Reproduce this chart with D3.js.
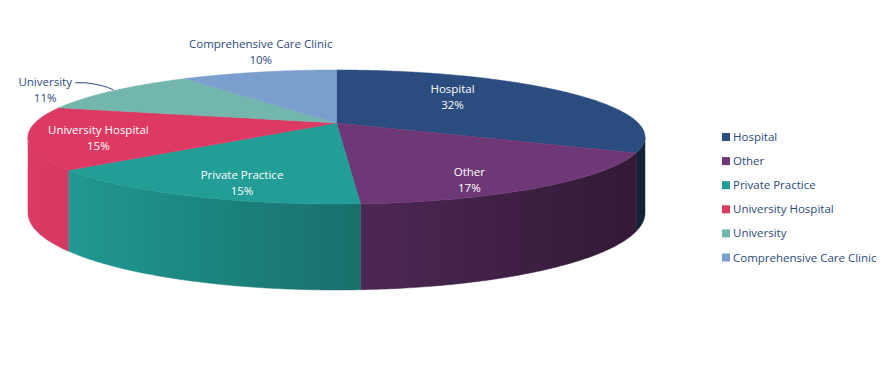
<!DOCTYPE html>
<html>
<head>
<meta charset="utf-8">
<script src="https://cdn.jsdelivr.net/npm/d3@7"></script>
<style>
  body { margin: 0; background: #fff; }
  svg { display: block; font-family: "Segoe UI", "Open Sans", sans-serif; }
</style>
</head>
<body>
<svg id="chart" width="883" height="392"></svg>
<script>
// data
var categories = ["Hospital", "Other", "Private Practice", "University Hospital", "University", "Comprehensive Care Clinic"];
var values = [32, 17, 15, 15, 11, 10];
var colors = ["#2b4c7e", "#6e3877", "#229e97", "#dc3a63", "#72b6ae", "#7b9fcd"];

var svg = d3.select("#chart");
var defs = svg.append("defs");

// perspective settings for the tilted disc
var cx = 336.5, cy = 123, sx = 301.7, sy = 64.1, persp = 0.209, depth = 73.8;

function proj(t, r, down) {
    r = r == null ? 1 : r;
    var px = r * Math.sin(t), pz = r * Math.cos(t);
    var w = 1 + persp * pz;
    var x = cx + sx * px / w, y = cy - sy * pz / w;
    if (down) y += depth / Math.pow(w, 0.65);
    return [x, y];
}

function arcPoints(a0, a1, down) {
    var n = Math.max(2, Math.ceil(Math.abs(a1 - a0) / 0.01));
    return d3.range(n + 1).map(function(i) { return proj(a0 + (a1 - a0) * i / n, 1, down); });
}

var pie = d3.pie().sort(null).value(function(d) { return d; });
var slices = pie(values);

var shade = d3.scaleLinear().domain([30, 640]).range([1, 0.45]).clamp(true);
function scaleColor(c, k) {
    var col = d3.rgb(c);
    return d3.rgb(col.r * k, col.g * k, col.b * k).toString();
}

// outer walls, only the part that faces us
var wMin = 102 * Math.PI / 180, wMax = 258 * Math.PI / 180;
var walls = svg.append("g").attr("class", "walls");
slices.forEach(function(s, i) {
    var a0 = Math.max(s.startAngle, wMin), a1 = Math.min(s.endAngle, wMax);
    if (a1 <= a0) return;
    var top = arcPoints(a0, a1, false);
    var bot = arcPoints(a1, a0, true);
    var x1 = top[0][0], x2 = top[top.length - 1][0];
    var grad = defs.append("linearGradient")
        .attr("id", "wall" + i)
        .attr("gradientUnits", "userSpaceOnUse")
        .attr("x1", x1).attr("x2", x2).attr("y1", 0).attr("y2", 0);
    d3.range(11).forEach(function(j) {
        var x = x1 + (x2 - x1) * j / 10;
        grad.append("stop").attr("offset", j / 10).attr("stop-color", scaleColor(colors[i], shade(x)));
    });
    walls.append("path")
        .attr("d", "M" + top.concat(bot).join("L") + "Z")
        .attr("fill", "url(#wall" + i + ")")
        .attr("stroke", "url(#wall" + i + ")")
        .attr("stroke-width", 0.5);
});

// top faces
var tops = svg.append("g").attr("class", "tops");
slices.forEach(function(s, i) {
    var pts = [[cx, cy]].concat(arcPoints(s.startAngle, s.endAngle, false));
    tops.append("path")
        .attr("d", "M" + pts.join("L") + "Z")
        .attr("fill", colors[i])
        .attr("stroke", colors[i])
        .attr("stroke-width", 0.5);
});

// labels
var inside = {
    "Hospital": [0.48, -10],
    "Other": [0.69, 15],
    "Private Practice": [0.685, 14],
    "University Hospital": [0.78, 4]
};
var labels = svg.append("g").attr("font-size", "11.5px");
slices.forEach(function(s, i) {
    var name = categories[i];
    var mid = (s.startAngle + s.endAngle) / 2;
    var pct = values[i] + "%";
    if (inside[name]) {
        var p = proj(mid, inside[name][0]);
        var t = labels.append("text").attr("fill", "#fff").attr("text-anchor", "middle");
        t.append("tspan").attr("x", p[0]).attr("y", p[1] + inside[name][1] - 8).attr("dy", "0.35em").text(name);
        t.append("tspan").attr("x", p[0]).attr("y", p[1] + inside[name][1] + 8).attr("dy", "0.35em").text(pct);
    } else {
        var e = proj(mid, 1);
        var lx, ly;
        if (name === "University") {
            lx = e[0] - 68; ly = e[1] - 1;
            labels.append("path")
                .attr("d", "M" + (e[0] - 38) + "," + (e[1] - 8) + "L" + (e[0] - 28) + "," + (e[1] - 8) +
                    "Q" + (e[0] - 10) + "," + (e[1] - 6) + " " + e[0] + "," + (e[1] - 1))
                .attr("fill", "none").attr("stroke", "#2b4a7a").attr("stroke-width", 1);
        } else {
            lx = e[0] + 2; ly = e[1] - 20;
        }
        var t2 = labels.append("text").attr("fill", "#2b4a7a").attr("text-anchor", "middle");
        t2.append("tspan").attr("x", lx).attr("y", ly - 8).attr("dy", "0.35em").text(name);
        t2.append("tspan").attr("x", lx).attr("y", ly + 8).attr("dy", "0.35em").text(pct);
    }
});

// legend
var legend = svg.append("g").attr("transform", "translate(722,137)");
var row = legend.selectAll("g").data(categories).enter().append("g")
    .attr("transform", function(d, i) { return "translate(0," + (i * 24.1) + ")"; });
row.append("rect").attr("x", 0).attr("y", -4).attr("width", 8).attr("height", 8)
    .attr("fill", function(d, i) { return colors[i]; });
row.append("text").attr("x", 11).attr("dy", "0.35em")
    .attr("font-size", "11.5px").attr("fill", "#2b4a7a")
    .text(function(d) { return d; });
</script>
</body>
</html>
